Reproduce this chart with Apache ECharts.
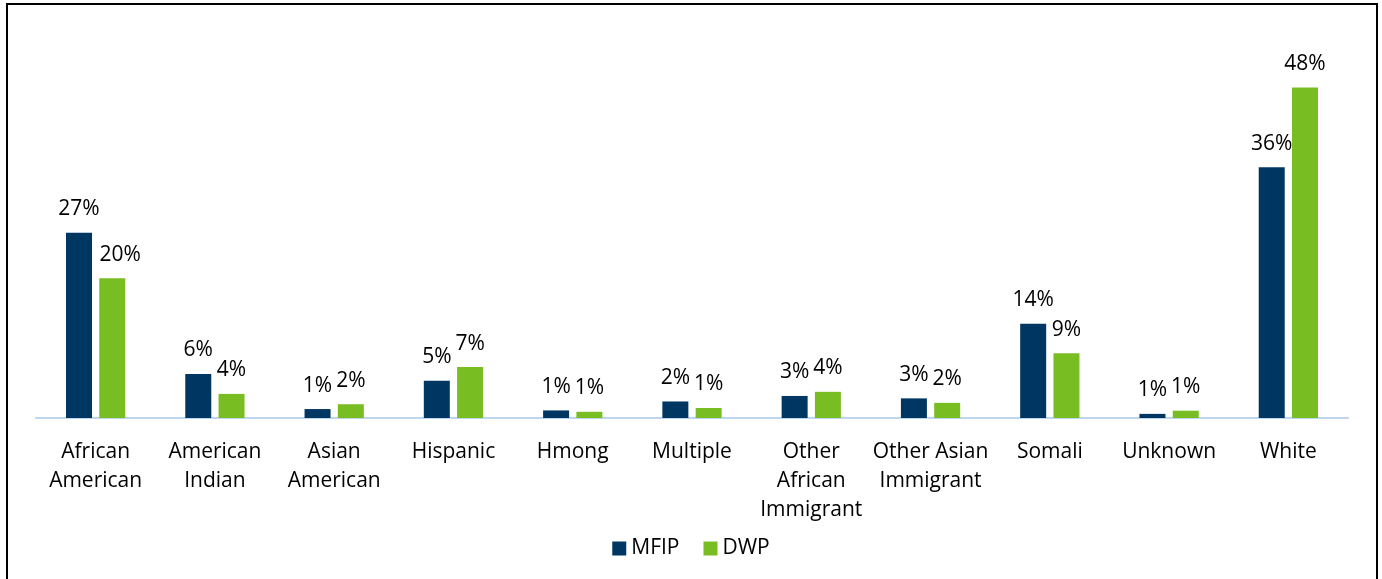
<!DOCTYPE html>
<html>
<head>
<meta charset="utf-8">
<script src="https://cdn.jsdelivr.net/npm/echarts@6/dist/echarts.min.js"></script>
<style>
  html, body { margin: 0; padding: 0; background: #fff; }
  #frame { position: absolute; left: 6px; top: 3px; width: 1368px; height: 620px; border: 2px solid #000; box-sizing: content-box; }
  #chart { position: absolute; left: 0; top: 0; width: 1382px; height: 579px; }
</style>
</head>
<body>
<div id="frame"></div>
<div id="chart"></div>
<script>
  // categories (axis labels, line breaks as in the source)
  let categories = [
    'African\nAmerican', 'American\nIndian', 'Asian\nAmerican', 'Hispanic', 'Hmong',
    'Multiple', 'Other\nAfrican\nImmigrant', 'Other Asian\nImmigrant', 'Somali', 'Unknown', 'White'
  ];
  // percent of participants
  let mfipValues = [26.9, 6.4, 1.3, 5.4, 1.1, 2.4, 3.2, 2.85, 13.7, 0.6, 36.4];
  let dwpValues = [20.3, 3.5, 2.0, 7.4, 0.9, 1.45, 3.8, 2.2, 9.4, 1.06, 48];

  let font = '"Open Sans", sans-serif';
  let dom = document.getElementById('chart');
  let myChart = echarts.init(dom, null, {renderer: 'canvas'});

  let labelCfg = {
    show: true,
    position: 'top',
    distance: 13,
    color: '#000',
    fontFamily: font,
    fontSize: 21,
    formatter: function (p) {
      return Math.round(p.value) + '%';
    }
  };

  // first DWP label sits a little to the right in the original
  let dwpData = dwpValues.map(function (v, i) {
    return i === 0 ? {value: v, label: {offset: [8, 0]}} : v;
  });

  let option = {
    animation: false,
    grid: {left: 36, right: 34, top: 73.6, bottom: 161},
    legend: {
      data: ['MFIP', 'DWP'],
      top: 533,
      left: 'center',
      itemWidth: 14,
      itemHeight: 14,
      itemGap: 24,
      icon: 'rect',
      textStyle: {fontFamily: font, fontSize: 21, color: '#000', lineHeight: 21}
    },
    xAxis: {
      type: 'category',
      data: categories,
      axisTick: {show: false},
      axisLine: {show: true, lineStyle: {color: '#BDD7EE', width: 2}},
      axisLabel: {
        interval: 0,
        margin: 20,
        color: '#000',
        fontFamily: font,
        fontSize: 21,
        lineHeight: 29
      }
    },
    yAxis: {
      type: 'value',
      min: 0,
      max: 50,
      show: false,
      splitLine: {show: false}
    },
    series: [
      {
        name: 'MFIP',
        type: 'bar',
        data: mfipValues,
        barWidth: 26,
        barGap: '28%',
        itemStyle: {color: '#003762'},
        label: labelCfg
      },
      {
        name: 'DWP',
        type: 'bar',
        data: dwpData,
        barWidth: 26,
        barGap: '28%',
        itemStyle: {color: '#78BE22'},
        label: labelCfg
      }
    ]
  };
  myChart.setOption(option, true);
</script>
</body>
</html>
